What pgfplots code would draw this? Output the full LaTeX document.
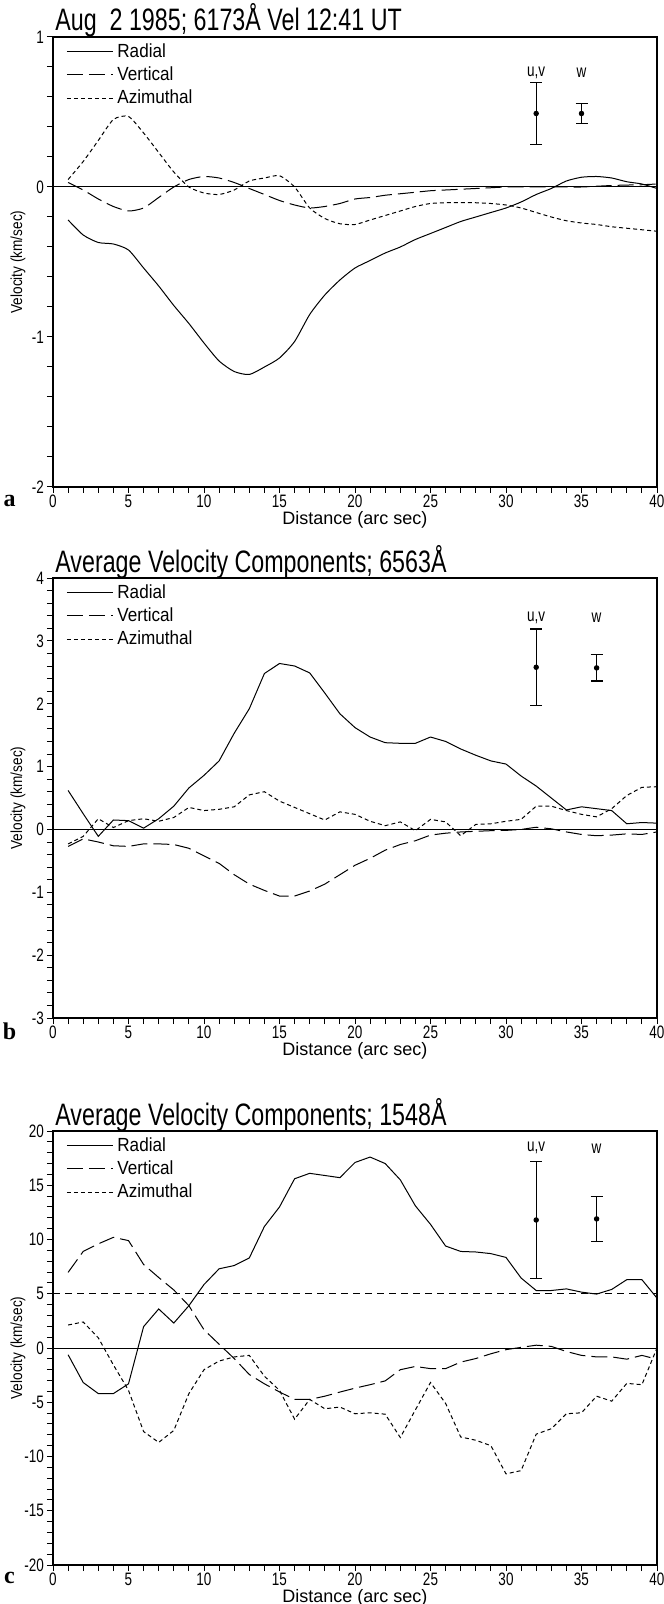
\documentclass[border=0pt]{standalone}
\usepackage{fontspec}
\setmainfont{Liberation Sans}[FakeStretch=0.75]
\newfontfamily\letterfont{Liberation Serif}
\newfontfamily\lblfont{Liberation Sans}
\newfontfamily\ylfont{Liberation Sans}[FakeStretch=0.85]
\newfontfamily\legfont{Liberation Sans}[FakeStretch=0.9]
\usepackage{pgfplots}
\pgfplotsset{compat=1.18}

\tikzset{
  barlbl/.style={font=\fontsize{9}{10}\selectfont},
  panlbl/.style={font=\letterfont\bfseries\fontsize{12}{12}\selectfont},
}

\pgfplotsset{
  velax/.style={
    scale only axis, width=302pt,
    clip mode=individual,
    xmin=0, xmax=40, xtick={0,5,...,40}, minor x tick num=4,
    axis line style={line width=0.6pt},
    tick align=outside, xtick pos=bottom, ytick pos=left,
    major tick length=3pt, minor tick length=3pt,
    every tick/.style={black, line width=0.5pt},
    minor tick style={black, line width=0.5pt},
    /pgf/number format/assume math mode=true,
    tick label style={font=\fontsize{9}{10}\selectfont},
    xticklabel style={yshift=2.5pt},
    yticklabel style={xshift=2pt},
    xlabel={Distance (arc sec)},
    ylabel={Velocity (km/sec)},
    xlabel style={font=\lblfont\fontsize{9}{10}\selectfont, at={(axis description cs:0.5,0)}, anchor=center, yshift=-16.5pt},
    ylabel style={font=\ylfont\fontsize{8}{9}\selectfont, at={(axis description cs:-0.058,0.5)}, anchor=center},
    every axis title shift=0pt,
    title style={font=\fontsize{15.5}{17}\selectfont, at={(axis description cs:0,1)}, anchor=base west, yshift=3pt, xshift=1pt, inner sep=0pt},
    legend style={draw=none, fill=none, at={(0,1)}, anchor=north west, xshift=6.5pt, yshift=-1pt,
      font=\legfont\fontsize{9.5}{10}\selectfont, row sep=-0.8pt, inner sep=0pt},
    legend cell align=left,
    legend image code/.code={\draw[#1] (0pt,0pt) -- (23pt,0pt);},
    every axis plot/.append style={black, line width=0.5pt, mark=none},
  },
  radial/.style={solid},
  vertical/.style={dash pattern=on 8pt off 3pt},
  azimuthal/.style={dash pattern=on 2pt off 1.5pt},
  errbar/.style={only marks, mark=*, mark size=1.1pt, mark options={solid, fill=black},
    error bars/.cd, y dir=both, y explicit,
    error bar style={line width=0.7pt, solid},
    error mark options={rotate=90, mark size=3pt, line width=0.6pt}},
}

\begin{document}
\begin{tikzpicture}

% ---------- panel a ----------
\begin{axis}[velax, height=225pt, at={(26.5pt,-18.5pt)}, anchor=north west,
  ymin=-2, ymax=1, ytick={-2,-1,0,1}, minor y tick num=4,
  title={Aug~~2 1985; 6173Å Vel 12:41 UT}]
\addplot[radial, smooth, tension=0.4] coordinates {
 (1,-0.22)(2,-0.32)(3,-0.37)(4,-0.38)(5,-0.42)(6,-0.54)(7,-0.66)(8,-0.79)(9,-0.91)(10,-1.04)
 (11,-1.16)(12,-1.23)(13,-1.25)(14,-1.20)(15,-1.14)(16,-1.03)(17,-0.85)(18,-0.72)(19,-0.62)(20,-0.54)
 (21,-0.49)(22,-0.44)(23,-0.40)(24,-0.35)(25,-0.31)(26,-0.27)(27,-0.23)(28,-0.20)(29,-0.17)(30,-0.14)
 (31,-0.10)(32,-0.05)(33,-0.01)(34,0.04)(35,0.065)(36,0.07)(37,0.06)(38,0.035)(39,0.02)(40,-0.01)};
\addplot[vertical, smooth, tension=0.4] coordinates {
 (1,0.03)(2,-0.02)(3,-0.08)(4,-0.13)(5,-0.16)(6,-0.14)(7,-0.07)(8,0.0)(9,0.05)(10,0.07)
 (11,0.06)(12,0.03)(13,-0.01)(14,-0.05)(15,-0.09)(16,-0.12)(17,-0.14)(18,-0.13)(19,-0.11)(20,-0.08)
 (21,-0.07)(22,-0.055)(23,-0.045)(24,-0.035)(25,-0.025)(26,-0.02)(27,-0.015)(28,-0.01)(29,-0.005)(30,0)
 (31,0)(32,0)(33,0)(34,0)(35,0)(36,0.005)(37,0.01)(38,0.013)(39,0.015)(40,0.02)};
\addplot[azimuthal, smooth, tension=0.4] coordinates {
 (1,0.05)(2,0.17)(3,0.31)(4,0.45)(5,0.47)(6,0.36)(7,0.23)(8,0.10)(9,0.00)(10,-0.04)
 (11,-0.05)(12,-0.02)(13,0.04)(14,0.06)(15,0.075)(16,0.0)(17,-0.14)(18,-0.21)(19,-0.245)(20,-0.25)
 (21,-0.22)(22,-0.19)(23,-0.16)(24,-0.13)(25,-0.11)(26,-0.105)(27,-0.105)(28,-0.105)(29,-0.11)(30,-0.12)
 (31,-0.14)(32,-0.17)(33,-0.20)(34,-0.225)(35,-0.24)(36,-0.25)(37,-0.265)(38,-0.275)(39,-0.285)(40,-0.295)};
\legend{Radial, Vertical, Azimuthal}
\addplot[forget plot] coordinates {(0,0)(40,0)};
\addplot[forget plot, errbar] coordinates {(32,0.49) +- (0,0.205) (35,0.49) +- (0,0.065)};
\node[barlbl] at (axis cs:32,0.76) {u,v};
\node[barlbl] at (axis cs:35,0.76) {w};
\node[panlbl] at (axis description cs:-0.072,-0.03) {a};
\end{axis}

% ---------- panel b ----------
\begin{axis}[velax, height=220pt, at={(26.5pt,-289pt)}, anchor=north west,
  ymin=-3, ymax=4, ytick={-3,...,4}, minor y tick num=4,
  title={Average Velocity Components; 6563Å}]
\addplot[radial] coordinates {
 (1,0.62)(2,0.25)(3,-0.11)(4,0.15)(5,0.14)(6,0.02)(7,0.17)(8,0.37)(9,0.66)(10,0.86)
 (11,1.09)(12,1.53)(13,1.92)(14,2.48)(15,2.64)(16,2.60)(17,2.49)(18,2.17)(19,1.84)(20,1.62)
 (21,1.47)(22,1.38)(23,1.37)(24,1.37)(25,1.47)(26,1.40)(27,1.28)(28,1.18)(29,1.09)(30,1.04)
 (31,0.85)(32,0.69)(33,0.50)(34,0.31)(35,0.36)(36,0.33)(37,0.30)(38,0.09)(39,0.11)(40,0.10)};
\addplot[vertical] coordinates {
 (1,-0.27)(2,-0.15)(3,-0.20)(4,-0.26)(5,-0.27)(6,-0.23)(7,-0.23)(8,-0.24)(9,-0.30)(10,-0.42)
 (11,-0.54)(12,-0.72)(13,-0.87)(14,-0.97)(15,-1.06)(16,-1.06)(17,-0.98)(18,-0.87)(19,-0.72)(20,-0.57)
 (21,-0.46)(22,-0.33)(23,-0.24)(24,-0.18)(25,-0.09)(26,-0.06)(27,-0.04)(28,-0.03)(29,-0.02)(30,-0.015)
 (31,0.0)(32,0.035)(33,0.01)(34,-0.04)(35,-0.08)(36,-0.10)(37,-0.09)(38,-0.07)(39,-0.08)(40,-0.04)};
\addplot[azimuthal] coordinates {
 (1,-0.23)(2,-0.11)(3,0.17)(4,0.03)(5,0.14)(6,0.17)(7,0.13)(8,0.19)(9,0.35)(10,0.30)
 (11,0.32)(12,0.36)(13,0.55)(14,0.60)(15,0.45)(16,0.35)(17,0.25)(18,0.15)(19,0.28)(20,0.24)
 (21,0.13)(22,0.06)(23,0.12)(24,-0.02)(25,0.16)(26,0.12)(27,-0.10)(28,0.08)(29,0.09)(30,0.13)
 (31,0.16)(32,0.37)(33,0.37)(34,0.30)(35,0.24)(36,0.20)(37,0.33)(38,0.54)(39,0.67)(40,0.68)};
\legend{Radial, Vertical, Azimuthal}
\addplot[forget plot] coordinates {(0,0)(40,0)};
\addplot[forget plot, errbar] coordinates {(32,2.58) +- (0,0.61) (36,2.57) +- (0,0.21)};
\node[barlbl] at (axis cs:32,3.37) {u,v};
\node[barlbl] at (axis cs:36,3.37) {w};
\node[panlbl] at (axis description cs:-0.072,-0.03) {b};
\end{axis}

% ---------- panel c ----------
\begin{axis}[velax, height=217pt, at={(26.5pt,-565.5pt)}, anchor=north west,
  ymin=-20, ymax=20, ytick={-20,-15,...,20}, minor y tick num=4,
  title={Average Velocity Components; 1548Å}]
\addplot[radial] coordinates {
 (1,-0.62)(2,-3.18)(3,-4.2)(4,-4.2)(5,-3.3)(6,1.97)(7,3.6)(8,2.3)(9,3.9)(10,5.85)
 (11,7.3)(12,7.6)(13,8.3)(14,11.2)(15,13.0)(16,15.6)(17,16.1)(18,15.9)(19,15.7)(20,17.1)
 (21,17.6)(22,17.0)(23,15.5)(24,13.1)(25,11.4)(26,9.4)(27,8.9)(28,8.85)(29,8.7)(30,8.35)
 (31,6.45)(32,5.3)(33,5.3)(34,5.45)(35,5.15)(36,4.97)(37,5.4)(38,6.3)(39,6.3)(40,4.6)};
\addplot[vertical] coordinates {
 (1,6.97)(2,8.9)(3,9.6)(4,10.2)(5,9.9)(6,7.7)(7,6.5)(8,5.35)(9,3.9)(10,1.68)
 (11,0.35)(12,-0.97)(13,-2.44)(14,-3.3)(15,-4.05)(16,-4.74)(17,-4.74)(18,-4.44)(19,-4.06)(20,-3.7)
 (21,-3.38)(22,-3.03)(23,-2.0)(24,-1.7)(25,-1.9)(26,-1.9)(27,-1.3)(28,-0.97)(29,-0.53)(30,-0.15)
 (31,0.06)(32,0.26)(33,0.15)(34,-0.32)(35,-0.68)(36,-0.82)(37,-0.82)(38,-1.03)(39,-0.68)(40,-1.03)};
\addplot[azimuthal] coordinates {
 (1,2.12)(2,2.4)(3,0.94)(4,-1.56)(5,-3.9)(6,-7.7)(7,-8.7)(8,-7.6)(9,-4.2)(10,-2.0)
 (11,-1.2)(12,-0.82)(13,-0.68)(14,-2.6)(15,-3.9)(16,-6.56)(17,-4.74)(18,-5.6)(19,-5.44)(20,-6.06)
 (21,-5.97)(22,-6.1)(23,-8.25)(24,-5.7)(25,-3.18)(26,-5.1)(27,-8.2)(28,-8.5)(29,-9.0)(30,-11.6)
 (31,-11.3)(32,-7.94)(33,-7.44)(34,-6.06)(35,-5.97)(36,-4.44)(37,-4.9)(38,-3.26)(39,-3.38)(40,0)};
\legend{Radial, Vertical, Azimuthal}
\addplot[forget plot] coordinates {(0,0)(40,0)};
\addplot[forget plot, dash pattern=on 3.5pt off 2.5pt] coordinates {(0,5)(40,5)};
\addplot[forget plot, errbar] coordinates {(32,11.8) +- (0,5.4) (36,11.9) +- (0,2.1)};
\node[barlbl] at (axis cs:32,18.4) {u,v};
\node[barlbl] at (axis cs:36,18.4) {w};
\node[panlbl] at (axis description cs:-0.072,-0.03) {c};
\end{axis}

\pgfresetboundingbox
\useasboundingbox (0pt,0pt) rectangle (331.5pt,-802pt);
\end{tikzpicture}
\end{document}
